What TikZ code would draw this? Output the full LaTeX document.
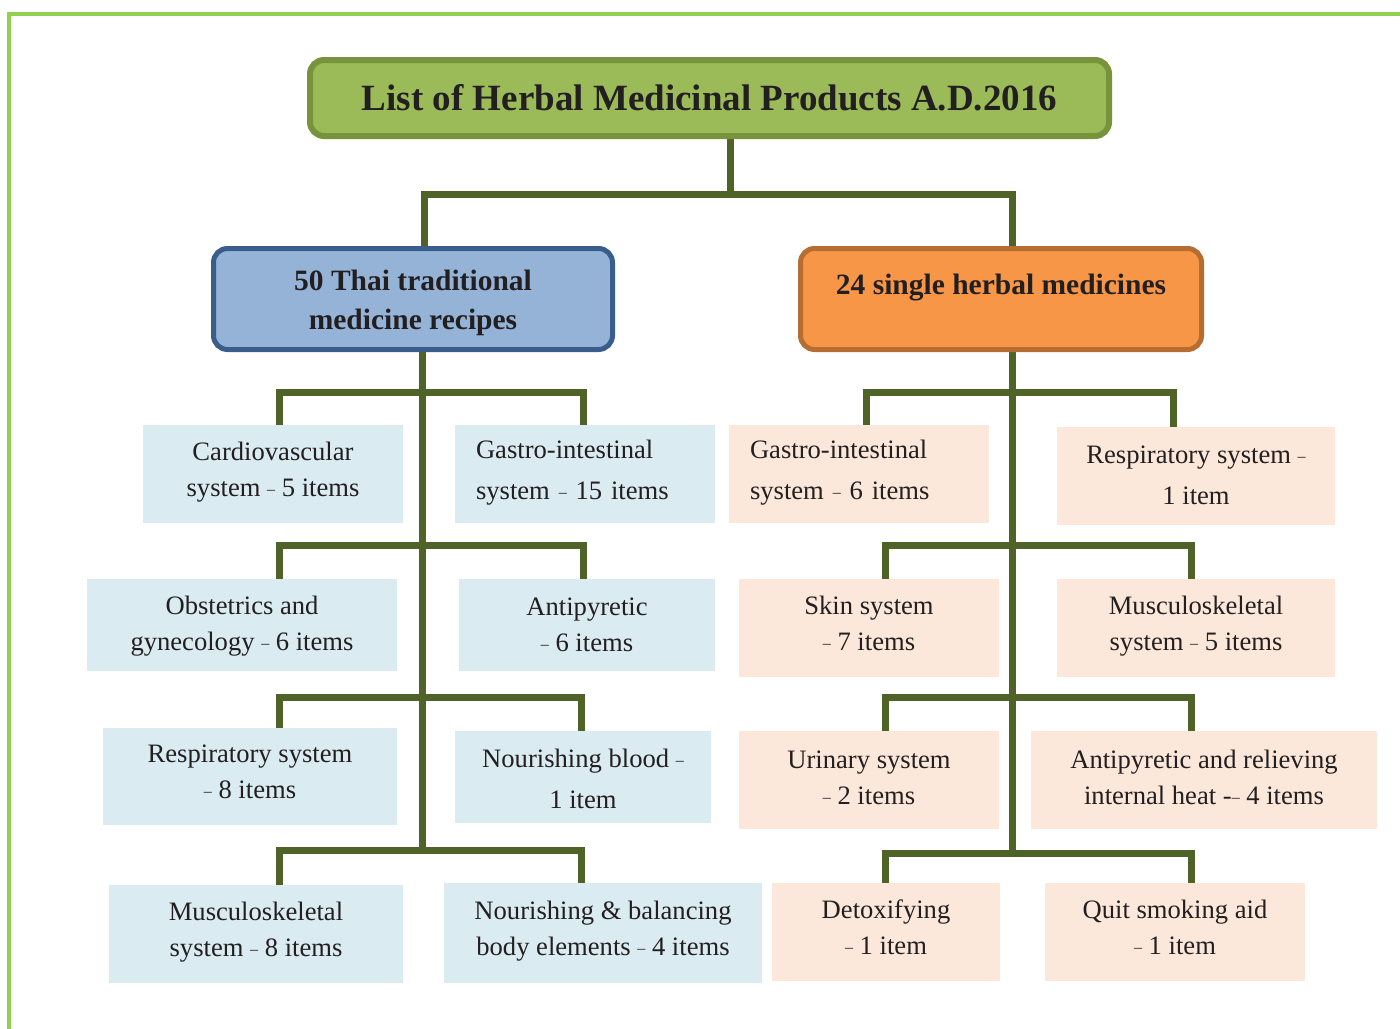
\documentclass[tikz,border=0pt]{standalone}
\usepackage{fontspec}
\setmainfont{Liberation Serif}
\usetikzlibrary{backgrounds}
\definecolor{frame}{HTML}{92D050}
\definecolor{titlefill}{HTML}{9BBB59}
\definecolor{titledraw}{HTML}{77933C}
\definecolor{bluefill}{HTML}{95B3D7}
\definecolor{bluedraw}{HTML}{3A5E8C}
\definecolor{orfill}{HTML}{F79646}
\definecolor{ordraw}{HTML}{B66D31}
\definecolor{conn}{HTML}{4F6228}
\definecolor{lblue}{HTML}{DAEBF2}
\definecolor{lpeach}{HTML}{FCE8DA}
\definecolor{txt}{HTML}{231F20}
\newcommand\sdash{\raisebox{0.15ex}{\fontsize{8}{8}\selectfont –}}
\newcommand\tp[1]{\rule{0pt}{#1}}
\begin{document}
\begin{tikzpicture}[x=0.5pt,y=-0.5pt,
  leafbase/.style={inner sep=0pt, align=center, text=txt, font=\fontsize{13.3}{18}\selectfont,
    execute at begin node={\rule{0pt}{10pt}}, execute at end node={\rule[-5pt]{0pt}{5pt}}},
  lleaf/.style={leafbase, fill=lblue},
  pleaf/.style={leafbase, fill=lpeach},
  wide/.style={font=\fontsize{13.3}{20.5}\selectfont},
  headbox/.style={rounded corners=7pt, line width=2.5pt, inner sep=0pt, align=center, text=txt,
    font=\bfseries\fontsize{14.75}{19.5}\selectfont, minimum height=50.5pt},
  conline/.style={draw=conn, line width=3.5pt, line cap=rect, line join=miter}]
\useasboundingbox (0,0) rectangle (1400,1028);
\draw[frame, line width=2pt] (9,14) rectangle (1430,1060);

% title and heads
\node[rounded corners=7pt, fill=titlefill, draw=titledraw, line width=3pt, inner sep=0pt,
  minimum width=399.5pt, minimum height=38pt, text=txt,
  font=\bfseries\fontsize{18.5}{22}\selectfont] (title) at (709.5,98)
  {List of Herbal Medicinal Products A.D.2016};
\node[headbox, fill=bluefill, draw=bluedraw, minimum width=199.5pt] (lb) at (413,299)
  {\tp{14pt}50 Thai traditional\\medicine recipes};
\node[headbox, fill=orfill, draw=ordraw, minimum width=200.5pt] (rb) at (1001,299)
  {\tp{18pt}24 single herbal medicines\\\phantom{Xg}};

% left leaves
\node[lleaf, minimum width=130pt, minimum height=49pt] (L1) at (273,474)
  {Cardiovascular\\system \sdash{} 5 items};
\node[lleaf, wide, text width=109pt, align=left, minimum width=130pt, minimum height=49pt] (L2) at (585,474)
  {Gastro-intestinal\\system \sdash{} 15 items};
\node[lleaf, minimum width=155pt, minimum height=46pt] (L3) at (242,625)
  {\tp{12.2pt}Obstetrics and\\gynecology \sdash{} 6 items};
\node[lleaf, minimum width=128pt, minimum height=46pt] (L4) at (587,625)
  {\tp{13pt}Antipyretic\\\sdash{} 6 items};
\node[lleaf, minimum width=147pt, minimum height=48.5pt] (L5) at (250,776.5)
  {Respiratory system\\\sdash{} 8 items};
\node[lleaf, wide, minimum width=128pt, minimum height=46pt] (L6) at (583,777)
  {\tp{16pt}Nourishing blood \sdash\\1 item};
\node[lleaf, minimum width=147pt, minimum height=49pt] (L7) at (256,934)
  {Musculoskeletal\\system \sdash{} 8 items};
\node[lleaf, minimum width=159pt, minimum height=50pt] (L8) at (603,933)
  {Nourishing \& balancing\\body elements \sdash{} 4 items};

% right leaves
\node[pleaf, wide, text width=109pt, align=left, minimum width=130pt, minimum height=49pt] (R1) at (859,474)
  {Gastro-intestinal\\system \sdash{} 6 items};
\node[pleaf, wide, minimum width=139pt, minimum height=49pt] (R2) at (1196,476)
  {\tp{13pt}Respiratory system \sdash\\1 item};
\node[pleaf, minimum width=130pt, minimum height=49pt] (R3) at (869,628)
  {Skin system\\\sdash{} 7 items};
\node[pleaf, minimum width=139pt, minimum height=49pt] (R4) at (1196,628)
  {Musculoskeletal\\system \sdash{} 5 items};
\node[pleaf, minimum width=130pt, minimum height=49pt] (R5) at (869,780)
  {\tp{11pt}Urinary system\\\sdash{} 2 items};
\node[pleaf, minimum width=173pt, minimum height=49pt] (R6) at (1204,780)
  {\tp{11pt}Antipyretic and relieving\\internal heat -\sdash{} 4 items};
\node[pleaf, minimum width=114pt, minimum height=49pt] (R7) at (886,932)
  {Detoxifying\\\sdash{} 1 item};
\node[pleaf, minimum width=130pt, minimum height=49pt] (R8) at (1175,932)
  {Quit smoking aid\\\sdash{} 1 item};

% junction coordinates
\coordinate (tj) at (730,194);
\coordinate (tl) at (424,194);
\coordinate (tr) at (1012,194);
\coordinate (ltr) at (422,850);
\coordinate (rtr) at (1012,850);
\coordinate (a1l) at (279,392); \coordinate (a1r) at (583,392);
\coordinate (a2l) at (279,545); \coordinate (a2r) at (583,545);
\coordinate (a3l) at (279,697); \coordinate (a3r) at (581,697);
\coordinate (a4l) at (279,850); \coordinate (a4r) at (581,850);
\coordinate (b1l) at (866,392); \coordinate (b1r) at (1173,392);
\coordinate (b2l) at (885,545); \coordinate (b2r) at (1191,545);
\coordinate (b3l) at (885,697); \coordinate (b3r) at (1191,697);
\coordinate (b4l) at (885,853); \coordinate (b4r) at (1191,853);

\begin{scope}[on background layer]
\draw[conline] (tj |- title.south) -- (tj);
\draw[conline] (tl |- lb.north) -- (tl) -- (tr) -- (tr |- rb.north);
\draw[conline] (ltr |- lb.south) -- (ltr);
\draw[conline] (rtr |- rb.south) -- (rtr);
\draw[conline] (a1l |- L1.north) -- (a1l) -- (a1r) -- (a1r |- L2.north);
\draw[conline] (a2l |- L3.north) -- (a2l) -- (a2r) -- (a2r |- L4.north);
\draw[conline] (a3l |- L5.north) -- (a3l) -- (a3r) -- (a3r |- L6.north);
\draw[conline] (a4l |- L7.north) -- (a4l) -- (a4r) -- (a4r |- L8.north);
\draw[conline] (b1l |- R1.north) -- (b1l) -- (b1r) -- (b1r |- R2.north);
\draw[conline] (b2l |- R3.north) -- (b2l) -- (b2r) -- (b2r |- R4.north);
\draw[conline] (b3l |- R5.north) -- (b3l) -- (b3r) -- (b3r |- R6.north);
\draw[conline] (b4l |- R7.north) -- (b4l) -- (b4r) -- (b4r |- R8.north);
\end{scope}
\end{tikzpicture}
\end{document}
